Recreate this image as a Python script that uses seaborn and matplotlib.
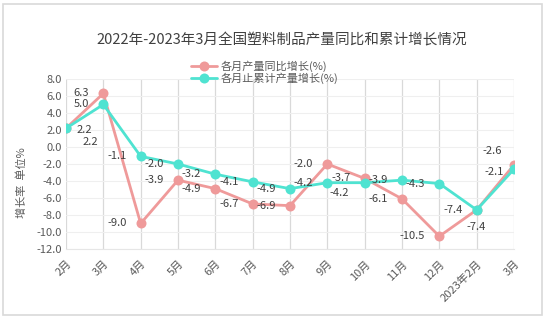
import numpy as np
import pandas as pd
import matplotlib
matplotlib.use("Agg")
import matplotlib.pyplot as plt
from matplotlib.patches import Rectangle
from matplotlib.transforms import offset_copy
import seaborn as sns

# ---- data ----
months = ["2月", "3月", "4月", "5月", "6月", "7月", "8月", "9月",
          "10月", "11月", "12月", "2023年2月", "3月"]
monthly_yoy = [2.2, 6.3, -9.0, -3.9, -4.9, -6.7, -6.9, -2.0,
               -3.7, -6.1, -10.5, -7.4, -2.1]
cumulative_yoy = [2.2, 5.0, -1.1, -2.0, -3.2, -4.1, -4.9, -4.2,
                  -4.2, -3.9, -4.3, -7.4, -2.6]
series_names = ["各月产量同比增长(%)", "各月止累计产量增长(%)"]
y_ticks = [8.0, 6.0, 4.0, 2.0, 0.0, -2.0, -4.0, -6.0, -8.0, -10.0, -12.0]

title = "2022年-2023年3月全国塑料制品产量同比和累计增长情况"
y_label = "增长率  单位%"

PINK = "#EF9A9A"
TEAL = "#4FE3D1"
TEXT = "#404040"
TICK = "#595959"

sns.set_theme(style="white")
plt.rcParams["font.family"] = ["Noto Sans CJK SC", "DejaVu Sans"]
plt.rcParams["axes.unicode_minus"] = False

pos = np.arange(len(months))
df = pd.DataFrame({
    "pos": np.concatenate([pos, pos]),
    "value": monthly_yoy + cumulative_yoy,
    "series": [series_names[0]] * len(months) + [series_names[1]] * len(months),
})

fig = plt.figure(figsize=(5.5, 3.21), dpi=100)
ax = fig.add_axes([66 / 550, 1 - 249 / 321, (514 - 66) / 550, (249 - 79) / 321])

sns.lineplot(data=df, x="pos", y="value", hue="series",
             hue_order=series_names, palette=[PINK, TEAL],
             marker="o", markersize=7.2, markeredgewidth=0,
             linewidth=2.0, ax=ax, legend=True, sort=False)

ax.set_xlim(0, len(months) - 1)
ax.set_ylim(-12, 8)
ax.set_yticks(y_ticks)
ax.set_yticklabels([f"{v:.1f}" for v in y_ticks], fontsize=8, color=TICK)
ax.set_xticks(pos)
ax.set_xticklabels(months, rotation=45, ha="right", rotation_mode="anchor",
                   fontsize=8, color=TICK)
ax.tick_params(axis="y", length=0, pad=3)
ax.tick_params(axis="x", length=0, pad=7)
ax.set_xlabel("")
ax.set_ylabel("")

# gridlines
ax.grid(axis="x", color="#D9D9D9", linewidth=0.9)
ax.grid(axis="y", color="#EFEFEF", linewidth=0.8)
ax.set_axisbelow(True)
for side in ["top", "right", "left"]:
    ax.spines[side].set_visible(False)
ax.spines["bottom"].set_color("#E6E6E6")
ax.spines["bottom"].set_linewidth(0.8)

# data labels: default to the left of each point, with a few adjustments
default_off = (-14, 0, "right")
pink_off = {0: (17, -14, "left"), 12: (-10, -7, "right")}
teal_off = {0: (11, -2, "left"), 8: (-16, -10, "right"),
            11: (0, -17, "center"), 12: (-12, 18, "right")}

for values, offs in ((monthly_yoy, pink_off), (cumulative_yoy, teal_off)):
    for i, v in enumerate(values):
        dx, dy, ha = offs.get(i, default_off)
        tr = offset_copy(ax.transData, fig=fig, x=dx * 0.72, y=dy * 0.72,
                         units="points")
        ax.text(pos[i], v, f"{v:.1f}", transform=tr, ha=ha, va="center",
                fontsize=8, color=TEXT)

# legend
leg = ax.legend(loc="center", bbox_to_anchor=(265 / 550, 1 - 72.5 / 321),
                bbox_transform=fig.transFigure, frameon=False, fontsize=8,
                handlelength=2.3, handletextpad=0.4, labelspacing=0.05,
                borderpad=0, title=None)
for t in leg.get_texts():
    t.set_color(TICK)

fig.text(282 / 550, 1 - 40 / 321, title, ha="center", va="center",
         fontsize=10.5, color=TEXT)
fig.text(22 / 550, 1 - 183 / 321, y_label, rotation=90, ha="center",
         va="center", fontsize=8, color=TICK)

# outer frame
fig.patches.append(Rectangle((3 / 550, 1 - 315 / 321), (542 - 3) / 550,
                             (315 - 4) / 321, transform=fig.transFigure,
                             fill=False, edgecolor="#D9D9D9", linewidth=1.2))

fig.savefig("out.png", dpi=100)
